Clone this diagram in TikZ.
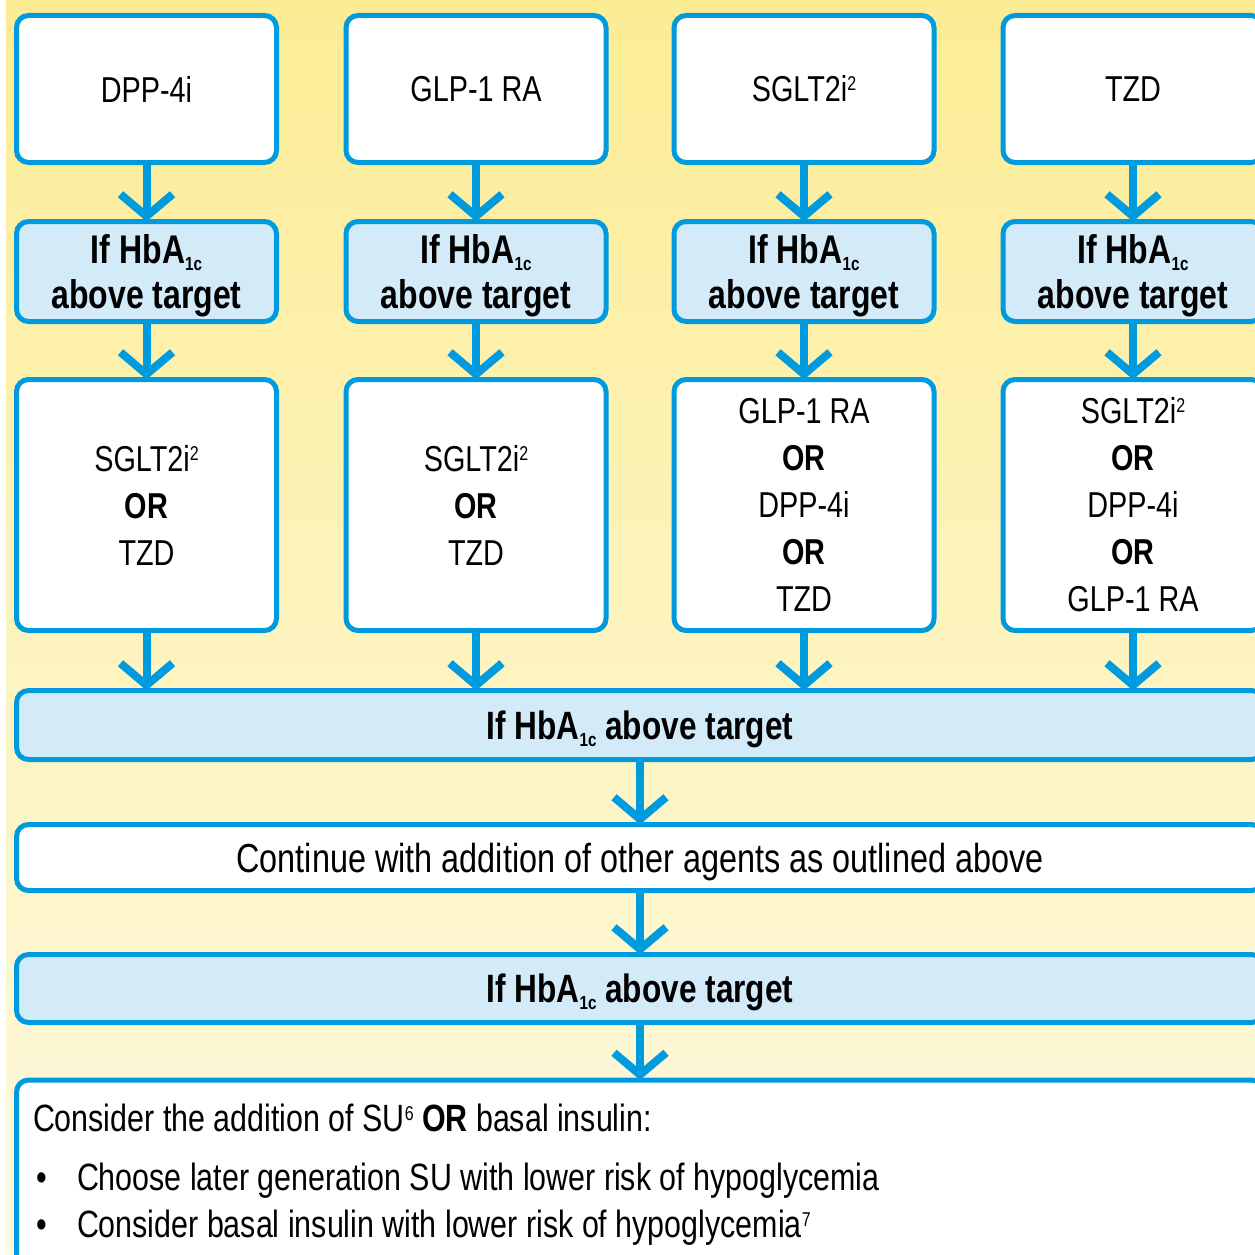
\documentclass[tikz,border=0pt]{standalone}
\usepackage{fontspec}
\setmainfont{Liberation Sans}[FakeStretch=0.8]
\usetikzlibrary{arrows.meta}
\definecolor{cblue}{HTML}{009BDE}
\definecolor{lblue}{HTML}{D3EAF8}
\definecolor{bgtop}{HTML}{FCEC94}
\definecolor{bgbot}{HTML}{FEF9DF}
% small raised / lowered indices
\newcommand{\supix}[1]{\raisebox{11pt}{\fontsize{20}{20}\selectfont #1}}
\newcommand{\hba}{HbA\raisebox{-7pt}{\fontsize{19}{19}\selectfont 1c}}
\begin{document}
\begin{tikzpicture}[x=1pt,y=-1pt,
  every node/.style={inner sep=0pt,outer sep=0pt},
  box/.style={draw=cblue,line width=5pt,rounded corners=12pt,fill=white,
    minimum width=260pt,align=center,font=\fontsize{36}{47}\selectfont},
  cond/.style={box,fill=lblue,text depth=0pt,
    font=\fontsize{40}{45}\selectfont\bfseries},
  wide/.style={minimum width=1247pt},
  flow/.style={draw=cblue,line width=8pt,
    -{Straight Barb[length=22pt,width=52pt]}},
  txt/.style={anchor=base west,font=\fontsize{38}{44}\selectfont}]
\useasboundingbox (0,0) rectangle (1255,1255);
\clip (0,0) rectangle (1255,1255);
% background
\shade[top color=bgtop,bottom color=bgbot,middle color=bgbot!55!bgtop]
  (0,0) rectangle (1255,1255);
\fill[white] (0,0) rectangle (6,1255);

% first choice
\node[box,minimum height=147pt] (a1) at (146.5,89) {DPP-4i};
\node[box,minimum height=147pt] (a2) at (476,89) {GLP-1 RA};
\node[box,minimum height=147pt] (a3) at (804,89) {SGLT2i\supix{2}};
\node[box,minimum height=147pt] (a4) at (1133,89) {TZD};

% HbA1c checks
\foreach \i/\x in {1/146.5,2/476,3/804,4/1133}
  \node[cond,minimum height=100pt] (b\i) at (\x,271.5)
    {If \hba\\above target};

% second choice
\node[box,minimum height=251pt] (c1) at (146.5,505)
  {SGLT2i\supix{2}\\\textbf{OR}\\TZD};
\node[box,minimum height=251pt] (c2) at (476,505)
  {SGLT2i\supix{2}\\\textbf{OR}\\TZD};
\node[box,minimum height=251pt] (c3) at (804,505)
  {GLP-1 RA\\\textbf{OR}\\DPP-4i\\\textbf{OR}\\TZD};
\node[box,minimum height=251pt] (c4) at (1133,505)
  {SGLT2i\supix{2}\\\textbf{OR}\\DPP-4i\\\textbf{OR}\\GLP-1 RA};

% shared steps
\node[cond,wide,minimum height=69pt,font=\fontsize{39.5}{45}\selectfont\bfseries]
  (d) at (640,725) {If \hba{} above target};
\node[box,wide,minimum height=66pt,text depth=0pt,
  font=\fontsize{40.5}{47}\selectfont] (e) at (640,857.5)
  {Continue with addition of other agents as outlined above};
\node[cond,wide,minimum height=68pt,font=\fontsize{39.5}{45}\selectfont\bfseries]
  (f) at (640,988.5) {If \hba{} above target};
\node[box,wide,minimum height=220pt] (g) at (640,1190) {};

\node[txt] (g1) at (33,1131)
  {Consider the addition of SU\supix{6} \textbf{OR} basal insulin:};
\node[txt] (g2a) at (36,1190) {•};
\node[txt] (g2) at (77,1190)
  {Choose later generation SU with lower risk of hypoglycemia};
\node[txt] (g3a) at (36,1237) {•};
\node[txt] (g3) at (77,1237)
  {Consider basal insulin with lower risk of hypoglycemia\supix{7}};

% connectors
\foreach \i in {1,2,3,4}{
  \draw[flow] (a\i.south) -- (b\i.north);
  \draw[flow] (b\i.south) -- (c\i.north);
  \draw[flow] (c\i.south) -- (c\i.south |- d.north);
}
\draw[flow] (d.south) -- (e.north);
\draw[flow] (e.south) -- (f.north);
\draw[flow] (f.south) -- (g.north);
\end{tikzpicture}
\end{document}
